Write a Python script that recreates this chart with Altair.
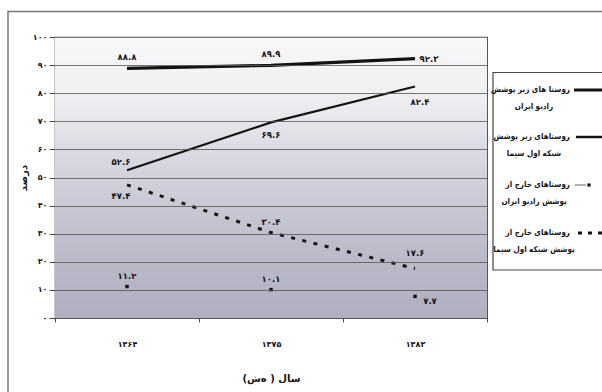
import altair as alt
import pandas as pd

# ---------------- data ----------------
years = ["۱۳۶۴", "۱۳۷۵", "۱۳۸۲"]
series_keys = ["radio_in", "tv_in", "radio_out", "tv_out"]
legend_line1 = ["روستا های زیر پوشش", "روستاهای زیر پوشش", "روستاهای خارج از", "روستاهای خارج از"]
legend_line2 = ["رادیو ایران", "شبکه اول سیما", "پوشش رادیو ایران", "پوشش شبکه اول سیما"]
radio_in = [88.8, 89.9, 92.3]
tv_in = [52.6, 69.6, 82.4]
radio_out = [11.2, 10.1, 7.7]
tv_out = [47.4, 30.4, 17.6]
y_ticks = [0, 10, 20, 30, 40, 50, 60, 70, 80, 90, 100]
x_title = "سال ( ه‌ش)"
y_title = "درصد"

# label placement keywords (styling, per point)
label_place = {
    "radio_in": ["above", "above", "right"],
    "tv_in": ["above_left", "below", "below_right"],
    "radio_out": ["above", "above", "right_low"],
    "tv_out": ["below_left", "above", "above_high"],
}
placements = {
    "above": dict(dx=0, dy=-11),
    "above_high": dict(dx=0, dy=-16),
    "right": dict(dx=14, dy=0),
    "above_left": dict(dx=-6, dy=-8),
    "below": dict(dx=0, dy=13),
    "below_right": dict(dx=5, dy=16),
    "right_low": dict(dx=15, dy=5),
    "below_left": dict(dx=-6, dy=11),
}

FA = str.maketrans("0123456789", "۰۱۲۳۴۵۶۷۸۹")


def fa(v):
    s = f"{v:g}"
    return s.translate(FA)


values = {"radio_in": radio_in, "tv_in": tv_in, "radio_out": radio_out, "tv_out": tv_out}
rows = []
for k in series_keys:
    for i, y in enumerate(years):
        v = values[k][i]
        rows.append(dict(year=y, series=k, value=v, label=fa(v), place=label_place[k][i]))
df = pd.DataFrame(rows)

# ---------------- layout ----------------
W, H = 432, 281
FONT = "DejaVu Sans"
CFONT = "DejaVu Sans Condensed"
INK = "#141414"

yexpr = "".join(f"datum.value == {v} ? '{fa(v)}' : " for v in y_ticks) + "''"

x_enc = alt.X(
    "year:N",
    sort=years,
    scale=alt.Scale(type="band", paddingInner=0, paddingOuter=0),
    axis=alt.Axis(
        title=x_title, tickBand="extent", tickSize=4, tickColor="#444", domain=False,
        labelAngle=0, labelFont=FONT, labelFontWeight="bold", labelFontSize=8,
        labelPadding=18, labelColor=INK, titleFont=FONT, titleFontWeight="bold",
        titleFontSize=10, titlePadding=25, titleColor=INK,
    ),
)
y_scale = alt.Scale(domain=[0, 100], nice=False, zero=True)
y_axis = alt.Axis(
    values=y_ticks, title=y_title, grid=True, gridColor="#555", gridWidth=0.8,
    tickSize=6, tickColor="#444", domain=False, labelExpr=yexpr,
    labelFont=FONT, labelFontWeight="bold", labelFontSize=8, labelColor=INK,
    labelPadding=2, titleFont=FONT, titleFontWeight="bold", titleFontSize=10,
    titlePadding=4, titleColor=INK, zindex=1,
)
y_enc = alt.Y("value:Q", scale=y_scale, axis=y_axis)

base = alt.Chart(df)
one = pd.DataFrame({"a": [0]})

# outer frame (decoration)
frame = alt.Chart(one).mark_rect(fillOpacity=0, stroke="#777", strokeWidth=1.5).encode(
    x=alt.value(-47), x2=alt.value(W + 140), y=alt.value(-25.5), y2=alt.value(H + 100))

# gradient background
bg = alt.Chart(one).mark_rect(
    color=alt.Gradient(
        gradient="linear", x1=0, x2=0, y1=0, y2=1,
        stops=[
            alt.GradientStop(color="#f8f8fa", offset=0),
            alt.GradientStop(color="#f0f0f3", offset=0.2),
            alt.GradientStop(color="#d6d6e0", offset=0.45),
            alt.GradientStop(color="#bcbccb", offset=0.75),
            alt.GradientStop(color="#afafc0", offset=1),
        ],
    )
).encode(x=alt.value(0), x2=alt.value(W), y=alt.value(0), y2=alt.value(H))

line1 = base.transform_filter("datum.series == 'radio_in'").mark_line(
    color=INK, strokeWidth=3.2).encode(x=x_enc, y=y_enc)
line2 = base.transform_filter("datum.series == 'tv_in'").mark_line(
    color=INK, strokeWidth=2.2).encode(x=x_enc, y=y_enc)
line4 = base.transform_filter("datum.series == 'tv_out'").mark_line(
    color=INK, strokeWidth=3, strokeDash=[4, 7.5]).encode(x=x_enc, y=y_enc)
pts3 = base.transform_filter("datum.series == 'radio_out'").mark_point(
    shape="square", filled=True, size=12, color=INK, opacity=1).encode(x=x_enc, y=y_enc)

label_layers = []
for key, p in placements.items():
    label_layers.append(
        base.transform_filter(f"datum.place == '{key}'").mark_text(
            font=FONT, fontWeight="bold", fontSize=8.5, color=INK, align="center",
            baseline="middle", dx=p["dx"], dy=p["dy"],
        ).encode(x=x_enc, y=y_enc, text="label:N")
    )

# legend (decoration built from legend text arrays)
leg_box = alt.Chart(one).mark_rect(fill="white", stroke="#444", strokeWidth=1.2).encode(
    x=alt.value(438), x2=alt.value(W + 130), y=alt.value(35.5), y2=alt.value(233))
leg_layers = [leg_box]
row_y = [53, 100, 148, 196]
for i in range(4):
    yy = row_y[i]
    leg_layers.append(alt.Chart(one).mark_text(
        font=CFONT, fontWeight="bold", fontSize=8, color=INK, align="right", baseline="middle",
        text=legend_line1[i]).encode(x=alt.value(515), y=alt.value(yy)))
    leg_layers.append(alt.Chart(one).mark_text(
        font=CFONT, fontWeight="bold", fontSize=8, color=INK, align="center", baseline="middle",
        text=legend_line2[i]).encode(x=alt.value(479), y=alt.value(yy + 17)))
# symbols
leg_layers.append(alt.Chart(one).mark_rule(color=INK, strokeWidth=3).encode(
    x=alt.value(519), x2=alt.value(547), y=alt.value(row_y[0])))
leg_layers.append(alt.Chart(one).mark_rule(color=INK, strokeWidth=2.5).encode(
    x=alt.value(521), x2=alt.value(547), y=alt.value(row_y[1])))
leg_layers.append(alt.Chart(one).mark_rule(color="#999", strokeWidth=1.5).encode(
    x=alt.value(520), x2=alt.value(531), y=alt.value(row_y[2])))
leg_layers.append(alt.Chart(one).mark_point(shape="square", filled=True, size=10, color=INK, opacity=1).encode(
    x=alt.value(534), y=alt.value(row_y[2])))
leg_layers.append(alt.Chart(one).mark_rule(color=INK, strokeWidth=3, strokeDash=[4, 6]).encode(
    x=alt.value(523), x2=alt.value(549), y=alt.value(row_y[3])))

chart = alt.layer(
    frame, bg, line1, line2, line4, pts3, *label_layers, *leg_layers,
).properties(
    width=W, height=H,
    autosize=alt.AutoSizeParams(type="none"),
    padding={"left": 55, "top": 37, "right": 115, "bottom": 74},
    background="white",
).configure_view(stroke="#444", strokeWidth=1.2)

chart.save("out.html", embed_options={"renderer": "svg", "actions": False})
